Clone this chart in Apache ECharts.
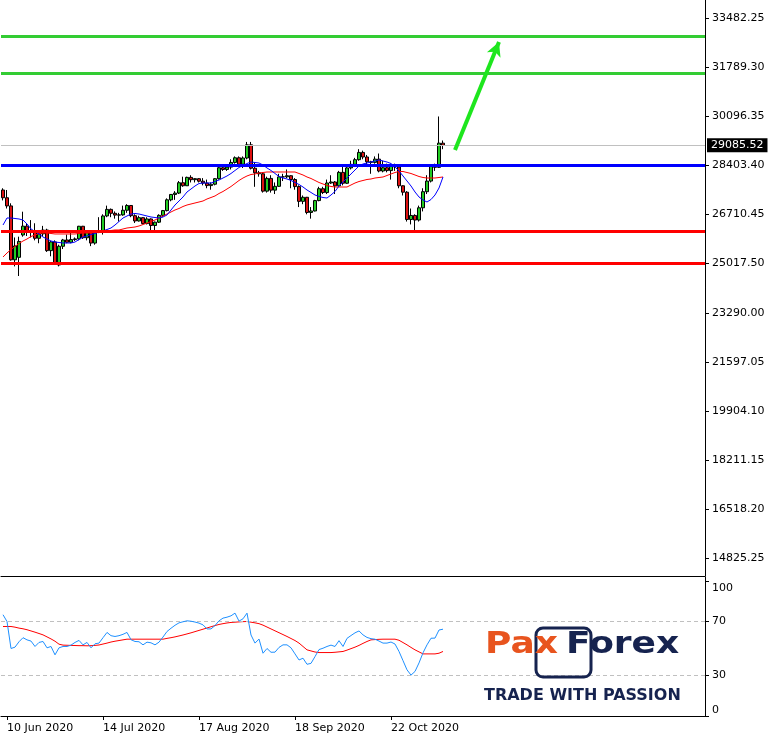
<!DOCTYPE html>
<html><head><meta charset="utf-8">
<script src="https://cdn.jsdelivr.net/npm/echarts@6/dist/echarts.min.js"></script>
<style>html,body{margin:0;padding:0;background:#fff}#c{width:779px;height:736px}</style>
</head><body><div id="c"></div>
<script>
// ---- data ----
const startDate = [2020, 5, 9];   // 9 Jun 2020, daily bars (weekdays)
const totalSlots = 176;           // visible bar slots incl. empty future space
const tickLabels = ['10 Jun 2020','14 Jul 2020','17 Aug 2020','18 Sep 2020','22 Oct 2020'];
const priceTicks = [33482.25,31789.30,30096.35,28403.40,26710.45,25017.50,23290.00,21597.05,19904.10,18211.15,16518.20,14825.25];
const rsiTicks = [0,30,70,100];

const opens = [27540,27272,26990,25128,25213,25985,26290,26120,26080,25871,
26025,26156,25445,25745,24950,25596,25813,25734,25827,25850,
26287,25890,26067,25706,26100,26086,26643,26870,26735,26672,
26680,26840,27005,26652,26470,26584,26379,26539,26313,26428,
26664,26828,27201,27386,27433,27791,27686,27976,27896,27931,
27844,27778,27692,27739,27930,28308,28249,28331,28492,28653,
28430,28645,29100,28292,28133,28100,27500,27940,27535,27666,
27993,27995,28032,27902,27657,27147,27288,26763,26815,27174,
27584,27452,27782,27817,27683,28149,27773,28303,28426,28587,
28838,28680,28514,28494,28606,28196,28309,28211,28364,28336,
27685,27464,26520,26660,26502,26925,27481,27848,28390,28323,
29158];
const highs = [27600,27540,27080,25900,25927,26790,26390,26500,26390,26150,
26300,26200,25780,25800,25650,25850,26000,26150,25900,26300,
26300,26150,26100,26100,26600,26700,27000,26900,26800,26750,
27000,27050,27020,26700,26650,26600,26600,26560,26450,26700,
26850,27250,27400,27500,27850,28000,28000,28050,27950,27950,
27950,27900,27800,27950,28350,28400,28400,28600,28700,28700,
28700,29200,29200,28500,28200,28150,28000,28050,27800,28100,
28100,28250,28050,27950,27700,27350,27300,26950,27200,27650,
27650,27900,28050,27850,28200,28400,28350,28550,28650,28950,
28900,28750,28550,28700,28800,28550,28450,28450,28450,28350,
27700,27500,26900,26700,27000,27600,28050,28400,28450,30080,
29250];
const lows = [27180,26900,25100,24900,24568,25927,25950,25900,25800,25700,
25950,25400,25250,24980,24900,25500,25700,25700,25780,25800,
25850,25800,25600,25650,26050,26000,26600,26600,26550,26450,
26650,26750,26600,26400,26450,26350,26350,26150,26100,26400,
26600,26800,27150,27200,27400,27650,27680,27800,27800,27800,
27700,27600,27550,27700,27900,28200,28200,28250,28450,28400,
28300,28600,28250,27650,28000,27450,27450,27450,27400,27650,
27850,27950,27600,27550,26950,27050,26700,26550,26800,27150,
27400,27400,27750,27400,27650,27700,27750,28250,28400,28550,
28600,28400,28100,28450,28150,28150,28150,27900,28200,27600,
27350,26450,26350,26100,26450,26800,27400,27800,28200,28300,
28950];
const closes = [27272,26990,25128,25606,25763,26290,26120,26080,25871,26025,
26156,25445,25745,25016,25596,25813,25734,25827,25850,26287,
25890,26067,25706,26075,26086,26643,26870,26735,26672,26680,
26840,27005,26652,26470,26584,26379,26539,26313,26428,26664,
26828,27201,27386,27433,27791,27686,27976,27896,27931,27844,
27778,27692,27739,27930,28308,28249,28331,28492,28653,28430,
28645,29100,28292,28133,28100,27500,27940,27535,27666,27993,
27995,28032,27902,27657,27147,27288,26763,26815,27174,27584,
27452,27782,27817,27683,28149,27773,28303,28426,28587,28838,
28680,28514,28494,28606,28196,28309,28211,28364,28336,27685,
27464,26520,26660,26502,26925,27481,27848,28390,28323,29158,
29085.52];
const maFast = [26330,26572,26572,26555,26538,26503,26365,26193,26106,26020,
25916,25847,25778,25743,25726,25709,25709,25709,25743,25830,
25916,25951,26002,26037,26089,26123,26175,26227,26330,26451,
26572,26641,26710,26728,26710,26676,26641,26607,26589,26572,
26607,26676,26849,27021,27160,27298,27471,27574,27678,27764,
27781,27781,27781,27833,27885,27954,28024,28110,28214,28317,
28386,28455,28507,28490,28472,28403,28300,28214,28110,28006,
27954,27920,27868,27799,27730,27643,27540,27454,27367,27315,
27281,27263,27367,27488,27678,27816,27954,28093,28231,28369,
28438,28472,28507,28541,28576,28541,28507,28455,28334,28196,
28024,27851,27678,27471,27298,27194,27125,27211,27367,27609,
27989];
const maSlow = [25225,25363,25484,25588,25691,25778,25847,25933,25985,26037,
26054,26054,26037,26020,26020,26020,26020,26020,26020,26037,
26054,26054,26054,26071,26089,26106,26123,26140,26158,26158,
26192,26227,26244,26261,26296,26347,26399,26451,26503,26572,
26641,26710,26780,26849,26901,26970,27021,27056,27091,27125,
27160,27229,27281,27333,27419,27488,27574,27661,27764,27868,
27954,28024,28075,28093,28127,28144,28162,28162,28162,28162,
28162,28162,28162,28162,28110,28058,27989,27937,27868,27799,
27747,27695,27661,27643,27643,27643,27643,27713,27781,27833,
27868,27903,27920,27954,27972,27989,28041,28093,28144,28179,
28179,28144,28110,28058,28006,27972,27954,27954,27954,27972,
27989];
const rsi = [75,70,50,51,55,58,56.4,55.5,51.5,54.5,
55.2,50.5,51.5,45.3,50.5,51.5,51.5,52.5,54.5,56,
52.7,54.5,50.5,53.5,54,58,61.9,59.5,58.9,59.5,
60.5,61.9,56.5,55.2,55,52.7,54.7,54.2,52.7,54.7,
58.5,62.6,65,67.2,69,69.8,70.5,70.2,69.6,68.8,
67.5,64.5,64.5,67,70.5,72.5,73.2,74.2,76.2,70.3,
72,76.2,60,54,57,46.5,50,47.2,47.3,50.8,
52.7,52.7,50.5,46,41.5,42.8,38.3,39,44,49.2,
50.2,51.5,52.5,51.5,55.8,51.5,57.5,59.6,61.6,63,
60.1,58.2,57.3,56.9,55.5,54,54,54.8,53.3,47.8,
41,34.2,30.3,33,39.3,46.8,52.7,57.6,57.7,63.7,
64.3];
const rsiMa = [66.3,66.3,66.3,65.8,65.1,64.6,63.9,63,62.1,61.1,
60.1,58.6,57.1,55.4,53.2,52.5,52.4,52.3,52.2,52.1,
52.1,52,52.1,52.3,52.6,53.3,54,54.8,55.4,55.9,
56.4,56.9,56.9,56.9,56.9,56.9,56.9,56.9,56.9,56.9,
56.9,57.5,58,58.6,59.3,60,60.8,61.6,62.5,63.4,
64.3,65.2,66.1,67,67.8,68.4,68.9,69.3,69.5,69.7,
69.9,70,69.5,69,68.4,67.3,65.9,64.5,63.1,61.7,
60.3,58.9,57.4,55.9,54,51.5,49,48.2,47.4,47,
47,47,47,47.2,47.5,47.8,48.8,49.9,51,52.3,
53.8,55.2,56.4,56.6,56.8,56.9,56.9,56.9,56.9,56.1,
54.4,52.7,50.8,49,47.5,46,46,46,46,46.5,
47.8];
const greenLevels = [32860, 31582];
const blueLevels = [28403.40];
const redLevels = [26123, 25017.50];
const lastPrice = 29085.52;
const arrowFrom = [113, 28921];
const arrowTo = [124, 32653];

// ---- build ----
const months = ['Jan','Feb','Mar','Apr','May','Jun','Jul','Aug','Sep','Oct','Nov','Dec'];
const cats = [];
const d = new Date(Date.UTC(startDate[0], startDate[1], startDate[2]));
while (cats.length < totalSlots) {
  const wd = d.getUTCDay();
  if (wd !== 0 && wd !== 6) cats.push(d.getUTCDate() + ' ' + months[d.getUTCMonth()] + ' ' + d.getUTCFullYear());
  d.setUTCDate(d.getUTCDate() + 1);
}
const candleData = closes.map((c, i) => [opens[i], c, lows[i], highs[i]]);
const showTick = (idx, val) => tickLabels.indexOf(val) >= 0;
const FONT = 'DejaVu Sans';

const levelData = []
  .concat(greenLevels.map(v => ({yAxis: v, lineStyle: {color: '#33cc33', width: 3, type: 'solid'}})))
  .concat(blueLevels.map(v => ({yAxis: v, lineStyle: {color: '#0000ff', width: 3, type: 'solid'}})))
  .concat(redLevels.map(v => ({yAxis: v, lineStyle: {color: '#ff0000', width: 3, type: 'solid'}})));

const chart = echarts.init(document.getElementById('c'), null, {renderer: 'canvas'});
chart.setOption({
  animation: false,
  backgroundColor: '#fff',
  grid: [
    {left: 1, top: 0, width: 704, height: 576},
    {left: 1, top: 577, width: 704, height: 139}
  ],
  xAxis: [
    {type: 'category', gridIndex: 0, data: cats, boundaryGap: true,
     axisLine: {show: true, onZero: false, lineStyle: {color: '#000', width: 1}},
     axisTick: {show: false}, axisLabel: {show: false}, splitLine: {show: false}},
    {type: 'category', gridIndex: 1, data: cats, boundaryGap: true,
     axisLine: {show: true, onZero: false, lineStyle: {color: '#000', width: 1}},
     axisTick: {show: true, interval: showTick, alignWithLabel: true, length: 4, lineStyle: {color: '#000'}},
     axisLabel: {show: true, interval: showTick, align: 'left', margin: 7, fontFamily: FONT, fontSize: 11, color: '#000'},
     splitLine: {show: false}}
  ],
  yAxis: [
    {type: 'value', gridIndex: 0, position: 'right', min: 14203.35, max: 34104.15, scale: true,
     axisLine: {show: true, lineStyle: {color: '#000', width: 1}},
     axisTick: {show: true, customValues: priceTicks, length: 4, lineStyle: {color: '#000'}},
     axisLabel: {show: true, customValues: priceTicks, formatter: v => v.toFixed(2), margin: 7, fontFamily: FONT, fontSize: 11, color: '#000'},
     splitLine: {show: false}},
    {type: 'value', gridIndex: 1, position: 'right', min: 0, max: 102.96,
     axisLine: {show: true, lineStyle: {color: '#000', width: 1}},
     axisTick: {show: true, customValues: rsiTicks, length: 4, lineStyle: {color: '#000'}},
     axisLabel: {show: true, customValues: rsiTicks, margin: 7, fontFamily: FONT, fontSize: 11, color: '#000',
       formatter: v => v === 100 ? '{t|100}' : (v === 0 ? '{b|0}' : String(v)),
       rich: {t: {padding: [14, 0, 0, 0], fontFamily: FONT, fontSize: 11, color: '#000'},
              b: {padding: [0, 0, 12, 0], fontFamily: FONT, fontSize: 11, color: '#000'}}},
     splitLine: {show: false}}
  ],
  series: [
    {type: 'candlestick', xAxisIndex: 0, yAxisIndex: 0, data: candleData, barWidth: 3,
     itemStyle: {color: '#22cc22', color0: '#dd1111', borderColor: '#000', borderColor0: '#000', borderWidth: 1}},
    {type: 'line', xAxisIndex: 0, yAxisIndex: 0, data: [], z: 3,
     markLine: {silent: true, symbol: ['none', 'none'], animation: false, label: {show: false}, data: levelData}},
    {type: 'line', xAxisIndex: 0, yAxisIndex: 0, data: maSlow, symbol: 'none', z: 4,
     lineStyle: {color: '#ff0000', width: 1}},
    {type: 'line', xAxisIndex: 0, yAxisIndex: 0, data: maFast, symbol: 'none', z: 4,
     lineStyle: {color: '#0000ff', width: 1}},
    {type: 'line', xAxisIndex: 0, yAxisIndex: 0, data: [], z: 2,
     markLine: {silent: true, symbol: ['none', 'none'], animation: false,
       data: [{yAxis: lastPrice, lineStyle: {color: '#c0c0c0', width: 1, type: 'solid'},
         label: {show: true, position: 'end', distance: 2, formatter: lastPrice.toFixed(2), color: '#fff', backgroundColor: '#000',
                 padding: [2, 4, 1, 4], fontFamily: FONT, fontSize: 11}}]}},
    {type: 'line', xAxisIndex: 0, yAxisIndex: 0, data: [], z: 5,
     markLine: {silent: true, animation: false, label: {show: false},
       lineStyle: {color: '#1ee61e', width: 4, type: 'solid'},
       data: [[{coord: arrowFrom, symbol: 'none'}, {coord: arrowTo, symbol: 'arrow', symbolSize: [11, 14]}]]}},
    {type: 'line', xAxisIndex: 1, yAxisIndex: 1, data: rsiMa, symbol: 'none', z: 4,
     lineStyle: {color: '#ff0000', width: 1},
     markLine: {silent: true, symbol: ['none', 'none'], animation: false, label: {show: false},
       lineStyle: {color: '#c0c0c0', width: 1, type: [4, 3]}, data: [{yAxis: 30}, {yAxis: 70}]}},
    {type: 'line', xAxisIndex: 1, yAxisIndex: 1, data: rsi, symbol: 'none', z: 5,
     lineStyle: {color: '#1e90ff', width: 1}}
  ],
  graphic: [
    {type: 'rect', z: 10, shape: {x: 536, y: 628, width: 55, height: 49, r: 7},
     style: {fill: 'rgba(0,0,0,0)', stroke: '#16234f', lineWidth: 3}},
    {type: 'text', z: 11, x: 485, y: 660, scaleX: 1.2,
     style: {text: 'Pax', font: 'bold 30px "DejaVu Sans"', fill: '#e8541e', verticalAlign: 'bottom'}},
    {type: 'text', z: 11, x: 566, y: 660, scaleX: 1.2,
     style: {text: 'Forex', font: 'bold 30px "DejaVu Sans"', fill: '#16234f', verticalAlign: 'bottom'}},
    {type: 'text', z: 11, x: 484, y: 688,
     style: {text: 'TRADE WITH PASSION', font: 'bold 16px "DejaVu Sans"', fill: '#16234f', verticalAlign: 'top'}}
  ]
});
</script>
</body></html>
